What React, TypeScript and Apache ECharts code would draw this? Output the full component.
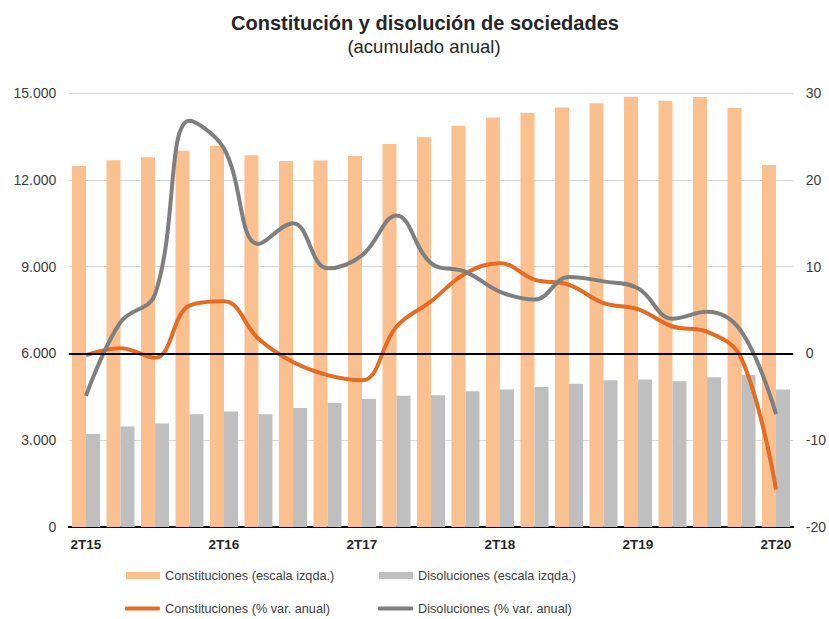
import React, { useEffect, useRef } from "react";
import * as echarts from "echarts";

const categories = [
  "2T15", "3T15", "4T15", "1T16", "2T16", "3T16", "4T16", "1T17", "2T17", "3T17", "4T17",
  "1T18", "2T18", "3T18", "4T18", "1T19", "2T19", "3T19", "4T19", "1T20", "2T20",
];
const constitucionesBars = [
  12480, 12680, 12780, 13000, 13180, 12850, 12650, 12670, 12820, 13240, 13470,
  13870, 14150, 14320, 14500, 14650, 14870, 14730, 14860, 14490, 12510,
];
const disolucionesBars = [
  3210, 3470, 3580, 3900, 3990, 3900, 4110, 4290, 4420, 4540, 4550,
  4690, 4750, 4840, 4950, 5070, 5100, 5040, 5180, 5250, 4750,
];
const constitucionesPct = [
  -0.2, 0.6, -0.5, 5.5, 6.0, 1.7, -1.0, -2.5, -3.1, 3.1, 6.0,
  9.2, 10.4, 8.5, 7.9, 5.8, 5.1, 3.1, 2.5, -0.6, -15.7,
];
const disolucionesPct = [
  -4.9, 3.6, 6.8, 26.8, 23.6, 12.6, 15.0, 9.8, 11.3, 15.9, 10.4,
  9.4, 7.1, 6.2, 8.8, 8.3, 7.5, 4.0, 4.8, 2.5, -7.0,
];
const seriesNames = [
  "Constituciones (escala izqda.)",
  "Disoluciones (escala izqda.)",
  "Constituciones (% var. anual)",
  "Disoluciones (% var. anual)",
];
const titleText = "Constitución y disolución de sociedades";
const subtitleText = "(acumulado anual)";

const FONT = "Arial, 'Liberation Sans', sans-serif";
const C_BAR = "#FAC090";
const D_BAR = "#BFBFBF";
const C_LINE = "#E46C23";
const D_LINE = "#7F7F7F";

export default function App() {
  const ref = useRef<HTMLDivElement>(null);
  useEffect(() => {
    if (!ref.current) return;
    const chart = echarts.init(ref.current, undefined, { renderer: "svg" });
    const legendText = { fontSize: 12.7, color: "#404040", fontFamily: FONT };
    const legendBase = { padding: 0, selectedMode: false, textStyle: legendText };
    chart.setOption({
      animation: false,
      textStyle: { fontFamily: FONT },
      graphic: [
        {
          type: "text",
          x: 425,
          y: 23,
          style: {
            text: titleText,
            font: `bold 20px ${FONT}`,
            fill: "#262626",
            textAlign: "center",
            textVerticalAlign: "middle",
          },
        },
        {
          type: "text",
          x: 424,
          y: 46,
          style: {
            text: subtitleText,
            font: `18.5px ${FONT}`,
            fill: "#262626",
            textAlign: "center",
            textVerticalAlign: "middle",
          },
        },
      ],
      legend: [
        {
          ...legendBase,
          data: [{ name: seriesNames[0], icon: "rect" }],
          left: 126, top: 569, itemWidth: 34, itemHeight: 7,
        },
        {
          ...legendBase,
          data: [{ name: seriesNames[1], icon: "rect" }],
          left: 379, top: 569, itemWidth: 34, itemHeight: 7,
        },
        {
          ...legendBase,
          data: [{ name: seriesNames[2], icon: "roundRect" }],
          left: 125, top: 602, itemWidth: 35, itemHeight: 4,
        },
        {
          ...legendBase,
          data: [{ name: seriesNames[3], icon: "roundRect" }],
          left: 378, top: 602, itemWidth: 35, itemHeight: 4,
        },
      ],
      grid: { left: 68.75, right: 35.75, top: 93, bottom: 92, containLabel: false },
      xAxis: {
        type: "category",
        data: categories,
        axisLine: { show: true, lineStyle: { color: "#000", width: 2 } },
        axisTick: { show: false },
        axisLabel: {
          interval: 3,
          fontWeight: "bold",
          fontSize: 13.5,
          color: "#262626",
          margin: 10,
        },
      },
      yAxis: [
        {
          type: "value",
          min: 0,
          max: 15000,
          interval: 3000,
          axisLine: { show: false },
          axisTick: { show: false },
          splitLine: { lineStyle: { color: "#D9D9D9", width: 1 } },
          axisLabel: {
            fontSize: 14,
            color: "#404040",
            margin: 12.5,
            formatter: (v: number) => String(v).replace(/\B(?=(\d{3})+(?!\d))/g, "."),
          },
        },
        {
          type: "value",
          min: -20,
          max: 30,
          interval: 10,
          axisLine: { show: false },
          axisTick: { show: false },
          splitLine: { show: false },
          axisLabel: { fontSize: 14, color: "#404040", margin: 12.5 },
        },
      ],
      series: [
        {
          name: seriesNames[0],
          type: "bar",
          data: constitucionesBars,
          barWidth: 14,
          barGap: "0%",
          itemStyle: { color: C_BAR },
          yAxisIndex: 0,
        },
        {
          name: seriesNames[1],
          type: "bar",
          data: disolucionesBars,
          barWidth: 14,
          barGap: "0%",
          itemStyle: { color: D_BAR },
          yAxisIndex: 0,
        },
        {
          name: seriesNames[2],
          type: "line",
          data: constitucionesPct,
          yAxisIndex: 1,
          smooth: 0.4,
          showSymbol: false,
          symbol: "none",
          itemStyle: { color: C_LINE },
          lineStyle: { color: C_LINE, width: 4 },
          z: 3,
          markLine: {
            silent: true,
            symbol: "none",
            label: { show: false },
            lineStyle: { color: "#000", width: 2, type: "solid" },
            data: [{ yAxis: 0 }],
          },
        },
        {
          name: seriesNames[3],
          type: "line",
          data: disolucionesPct,
          yAxisIndex: 1,
          smooth: 0.4,
          showSymbol: false,
          symbol: "none",
          itemStyle: { color: D_LINE },
          lineStyle: { color: D_LINE, width: 4 },
          z: 4,
        },
      ],
    });
    return () => chart.dispose();
  }, []);
  return (
    <div
      ref={ref}
      style={{ position: "fixed", left: 0, top: 0, width: 829, height: 619, background: "#fff" }}
    />
  );
}
